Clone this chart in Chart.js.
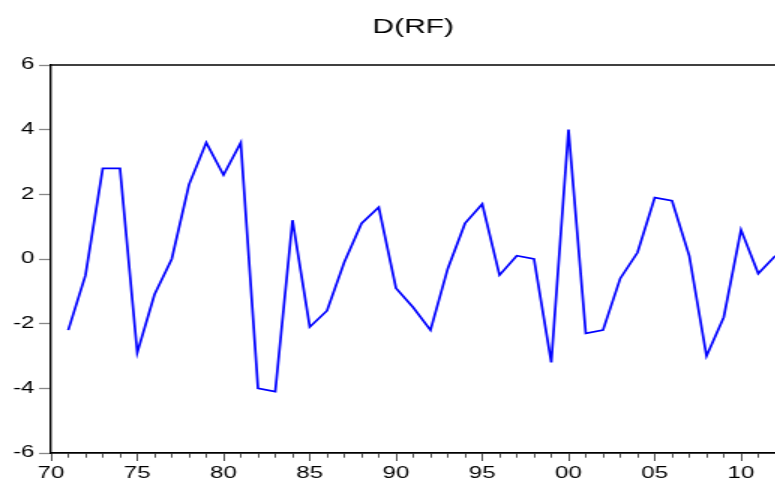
<!DOCTYPE html>
<html>
<head>
<meta charset="utf-8">
<title>D(RF)</title>
<script src="https://cdn.jsdelivr.net/npm/chart.js@4.4.1/dist/chart.umd.min.js"></script>
<style>
  html, body { margin: 0; padding: 0; background: #fff; overflow: hidden; }
  /* the whole graph is drawn narrow and stretched sideways */
  #wrap { width: 520px; height: 482px; transform: scaleX(1.5); transform-origin: 0 0; }
</style>
</head>
<body>
<div id="wrap"><canvas id="chart" width="520" height="482"></canvas></div>
<script>
const years = [1971, 1972, 1973, 1974, 1975, 1976, 1977, 1978, 1979, 1980,
               1981, 1982, 1983, 1984, 1985, 1986, 1987, 1988, 1989, 1990,
               1991, 1992, 1993, 1994, 1995, 1996, 1997, 1998, 1999, 2000,
               2001, 2002, 2003, 2004, 2005, 2006, 2007, 2008, 2009, 2010,
               2011, 2012];
const rfDiff = [-2.2, -0.5, 2.8, 2.8, -2.9, -1.1, 0.0, 2.3, 3.6, 2.6,
                3.6, -4.0, -4.1, 1.2, -2.1, -1.6, -0.1, 1.1, 1.6, -0.9,
                -1.5, -2.2, -0.3, 1.1, 1.7, -0.5, 0.1, 0.0, -3.2, 4.0,
                -2.3, -2.2, -0.6, 0.2, 1.9, 1.8, 0.1, -3.0, -1.8, 0.9,
                -0.45, 0.1];
const xTickYears = [1970, 1975, 1980, 1985, 1990, 1995, 2000, 2005, 2010];
const xTickLabels = ['70', '75', '80', '85', '90', '95', '00', '05', '10'];
const yTicks = [-6, -4, -2, 0, 2, 4, 6];

const xMin = 1970, xMax = 2012;
const font = { family: "'Liberation Sans', Arial, sans-serif", size: 16 };

// thin frame line along the top of the plot
const topLine = {
    id: 'topLine',
    afterDraw(chart) {
        const { ctx, chartArea } = chart;
        ctx.save();
        ctx.strokeStyle = '#000';
        ctx.lineWidth = 1.3;
        ctx.beginPath();
        ctx.moveTo(chartArea.left, chartArea.top);
        ctx.lineTo(chartArea.right + 2, chartArea.top);
        ctx.stroke();
        ctx.restore();
    }
};

const isMajor = (v) => xTickYears.includes(v);

new Chart(document.getElementById('chart'), {
    type: 'line',
    data: {
        datasets: [{
            data: years.map((y, i) => ({ x: y, y: rfDiff[i] })),
            borderColor: '#0000ff',
            borderWidth: 1.7,
            pointRadius: 0,
            tension: 0,
            fill: false
        }]
    },
    options: {
        responsive: false,
        animation: false,
        layout: { padding: 0 },
        plugins: {
            legend: { display: false },
            tooltip: { enabled: false },
            title: {
                display: true,
                text: 'D(RF)',
                fullSize: false,
                color: '#000',
                font: { family: font.family, size: 20, weight: 'normal', lineHeight: 1 },
                padding: { top: 17, bottom: 28 }
            }
        },
        scales: {
            x: {
                type: 'linear',
                min: xMin,
                max: xMax,
                afterBuildTicks(scale) {
                    const ticks = [];
                    for (let v = xMin; v <= xMax; v++) ticks.push({ value: v });
                    scale.ticks = ticks;
                },
                afterFit(scale) { scale.height = 29; },
                ticks: {
                    autoSkip: false,
                    maxRotation: 0,
                    padding: 3,
                    color: '#000',
                    font: font,
                    callback: (v) => {
                        const i = xTickYears.indexOf(v);
                        return i >= 0 ? xTickLabels[i] : '';
                    }
                },
                grid: {
                    drawOnChartArea: false,
                    drawTicks: true,
                    tickLength: 8,
                    tickWidth: 0.8,
                    tickColor: '#222',
                    // minor year ticks stop halfway
                    tickBorderDash: (ctx) => (ctx.tick && isMajor(ctx.tick.value)) ? [] : [4, 20]
                },
                border: { display: true, color: '#000', width: 1.7 }
            },
            y: {
                min: -6,
                max: 6,
                afterBuildTicks(scale) {
                    scale.ticks = yTicks.map(v => ({ value: v }));
                },
                afterFit(scale) { scale.width = 34; },
                ticks: {
                    padding: 3,
                    color: '#000',
                    font: font
                },
                grid: {
                    drawOnChartArea: false,
                    drawTicks: true,
                    tickLength: 8,
                    tickWidth: 1.3,
                    tickColor: '#888'
                },
                border: { display: true, color: '#000', width: 1.4 }
            }
        }
    },
    plugins: [topLine]
});
</script>
</body>
</html>
